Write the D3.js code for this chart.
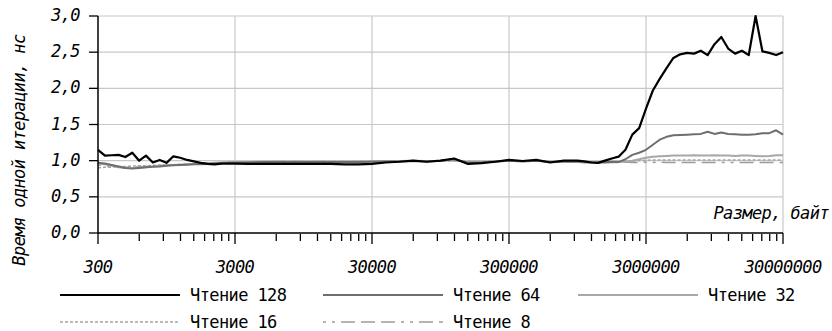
<!DOCTYPE html>
<html>
<head>
<meta charset="utf-8">
<script src="https://cdn.jsdelivr.net/npm/d3@7"></script>
<style>
  body { margin: 0; background: #fff; }
  svg text { font-family: "DejaVu Sans Mono", monospace; font-size: 17px; letter-spacing: -0.6px; fill: #000; }
</style>
</head>
<body>
<svg id="chart" width="832" height="331"></svg>
<script>
// sizes, bytes
var sizes = [
  300, 337, 378, 424, 475, 534, 599, 672, 754, 846, 949, 1065, 1194, 1340, 1504, 1687, 1893, 2124, 2383, 2674,
  3000, 3777, 4755, 5986, 7536, 9487, 11940, 15040, 18930, 23830, 30000, 37770, 47550, 59860, 75360, 94870,
  119400, 150400, 189300, 238300, 300000, 377700, 475500, 598600, 753600,
  845600, 948700, 1064000, 1194000, 1340000, 1504000, 1687000, 1893000, 2124000, 2383000, 2674000,
  3000000, 3366000, 3777000, 4238000, 4755000, 5335000, 5986000, 6716000, 7536000, 8455000, 9487000,
  10640000, 11940000, 13400000, 15040000, 16870000, 18930000, 21240000, 23830000, 26740000, 30000000
];

var read128 = [
  1.15, 1.07, 1.075, 1.08, 1.05, 1.11, 1.00, 1.07, 0.975, 1.01, 0.97, 1.06, 1.04, 1.01, 0.99, 0.97, 0.955, 0.95, 0.96, 0.96,
  0.96, 0.955, 0.955, 0.955, 0.955, 0.955, 0.955, 0.955, 0.95, 0.95, 0.955, 0.975, 0.985, 1.0, 0.985, 1.0,
  1.03, 0.955, 0.965, 0.985, 1.01, 0.995, 1.01, 0.975, 1.0,
  1.0, 1.0, 0.99, 0.975, 0.97, 1.0, 1.03, 1.055, 1.15, 1.36, 1.45,
  1.72, 1.97, 2.13, 2.28, 2.42, 2.47, 2.49, 2.48, 2.52, 2.46, 2.61,
  2.71, 2.55, 2.48, 2.52, 2.46, 3.0, 2.51, 2.49, 2.46, 2.5
];

var read64 = [
  0.97, 0.96, 0.94, 0.92, 0.90, 0.89, 0.90, 0.91, 0.915, 0.92, 0.93, 0.935, 0.94, 0.945, 0.95, 0.95, 0.955, 0.96, 0.965, 0.97,
  0.97, 0.975, 0.98, 0.98, 0.98, 0.98, 0.98, 0.98, 0.98, 0.98, 0.985, 0.99, 0.99, 0.995, 0.99, 1.0,
  1.02, 0.97, 0.975, 0.99, 1.0, 0.99, 1.0, 0.98, 0.99,
  0.99, 0.99, 0.985, 0.98, 0.975, 0.98, 0.985, 0.98, 1.02, 1.08, 1.11,
  1.15, 1.22, 1.29, 1.33, 1.35, 1.355, 1.36, 1.365, 1.37, 1.40, 1.37,
  1.39, 1.37, 1.365, 1.36, 1.36, 1.365, 1.38, 1.38, 1.42, 1.36
];

var read32 = [
  0.96, 0.95, 0.93, 0.91, 0.90, 0.90, 0.905, 0.91, 0.92, 0.93, 0.935, 0.94, 0.945, 0.95, 0.955, 0.96, 0.965, 0.97, 0.975, 0.975,
  0.98, 0.98, 0.985, 0.985, 0.985, 0.985, 0.985, 0.985, 0.985, 0.985, 0.99, 0.99, 0.995, 1.0, 0.995, 1.0,
  1.01, 0.98, 0.98, 0.99, 1.0, 0.995, 1.0, 0.985, 0.99,
  0.98, 0.98, 0.975, 0.97, 0.97, 0.975, 0.98, 0.985, 0.99, 1.0, 1.02,
  1.04, 1.055, 1.06, 1.065, 1.07, 1.07, 1.07, 1.075, 1.07, 1.07, 1.075,
  1.07, 1.07, 1.065, 1.07, 1.07, 1.065, 1.06, 1.065, 1.075, 1.075
];

var read16 = [
  0.90, 0.91, 0.91, 0.92, 0.92, 0.925, 0.93, 0.93, 0.935, 0.94, 0.94, 0.945, 0.95, 0.955, 0.96, 0.965, 0.97, 0.97, 0.975, 0.98,
  0.98, 0.985, 0.99, 0.99, 0.99, 0.99, 0.99, 0.99, 0.99, 0.99, 0.99, 0.995, 1.0, 1.0, 1.0, 1.0,
  1.0, 0.99, 0.99, 0.995, 1.0, 1.0, 1.0, 0.99, 0.99,
  0.985, 0.985, 0.98, 0.98, 0.975, 0.975, 0.98, 0.98, 0.985, 0.99, 1.0,
  1.005, 1.01, 1.01, 1.01, 1.01, 1.01, 1.01, 1.01, 1.01, 1.01, 1.01,
  1.01, 1.01, 1.01, 1.01, 1.01, 1.01, 1.01, 1.01, 1.01, 1.01
];

var read8 = [
  0.94, 0.93, 0.92, 0.915, 0.91, 0.91, 0.915, 0.92, 0.925, 0.93, 0.935, 0.94, 0.945, 0.95, 0.955, 0.96, 0.96, 0.965, 0.97, 0.975,
  0.98, 0.98, 0.985, 0.99, 0.99, 0.99, 0.99, 0.99, 0.99, 0.99, 0.99, 0.99, 0.995, 0.995, 0.995, 1.0,
  1.0, 0.99, 0.99, 0.99, 0.995, 0.99, 0.995, 0.985, 0.985,
  0.98, 0.98, 0.975, 0.975, 0.97, 0.97, 0.975, 0.975, 0.98, 0.975, 0.975,
  0.98, 0.975, 0.98, 0.975, 0.975, 0.975, 0.975, 0.975, 0.975, 0.975, 0.975,
  0.975, 0.975, 0.975, 0.975, 0.975, 0.975, 0.975, 0.975, 0.975, 0.975
];

var seriesNames = ['Чтение 128', 'Чтение 64', 'Чтение 32', 'Чтение 16', 'Чтение 8'];
var majorTicks = [300, 3000, 30000, 300000, 3000000, 30000000];
var yTicks = [0, 0.5, 1, 1.5, 2, 2.5, 3];

var svg = d3.select('#chart');
var plotLeft = 98, plotRight = 783, plotTop = 16, plotBottom = 233;

var x = d3.scaleLog().domain([300, 30000000]).range([plotLeft, plotRight]);
var y = d3.scaleLinear().domain([0, 3]).range([plotBottom, plotTop]);
var fmt = d3.formatLocale({decimal: ',', thousands: ' ', grouping: [3], currency: ['', '']}).format('.1f');

// minor tick values: 2..9 times each major, inside the domain
var minorTicks = [];
majorTicks.slice(0, -1).forEach(function (m) {
  for (var k = 2; k <= 9; k++) minorTicks.push(m * k);
});

// grid
svg.append('g').selectAll('line').data(yTicks.slice(1)).enter().append('line')
  .attr('x1', plotLeft).attr('x2', plotRight)
  .attr('y1', d => y(d)).attr('y2', d => y(d))
  .style('stroke', '#c8c8c8').style('stroke-width', 1.2);
svg.append('g').selectAll('line').data(majorTicks.slice(1)).enter().append('line')
  .attr('x1', d => x(d)).attr('x2', d => x(d))
  .attr('y1', plotTop).attr('y2', plotBottom)
  .style('stroke', '#c8c8c8').style('stroke-width', 1.2);

// series
var styles = [
  {data: read128, color: '#000000', width: 2.2, dash: null},
  {data: read64, color: '#6e6e6e', width: 2, dash: null},
  {data: read32, color: '#a8a8a8', width: 2, dash: null},
  {data: read16, color: '#a4a4a4', width: 1.5, dash: '3,2'},
  {data: read8, color: '#9c9c9c', width: 1.5, dash: '3,6,3,6,14,6,14,6,14,6'}
];

var line = d3.line().x((d, i) => x(sizes[i])).y(d => y(d));

styles.slice().reverse().forEach(function (s) {
  svg.append('path')
    .datum(s.data)
    .attr('d', line)
    .style('fill', 'none')
    .style('stroke', s.color)
    .style('stroke-width', s.width)
    .style('stroke-linejoin', 'round')
    .style('stroke-dasharray', s.dash);
});

// axes
var yAxis = svg.append('g');
yAxis.append('line').attr('x1', plotLeft).attr('x2', plotLeft).attr('y1', plotTop).attr('y2', plotBottom)
  .style('stroke', '#000').style('stroke-width', 1.5);
yAxis.selectAll('.tick').data(yTicks).enter().append('line')
  .attr('x1', plotLeft - 9).attr('x2', plotLeft)
  .attr('y1', d => y(d)).attr('y2', d => y(d))
  .style('stroke', '#000').style('stroke-width', 1.3);
yAxis.selectAll('text').data(yTicks).enter().append('text')
  .attr('x', plotLeft - 18).attr('y', d => y(d)).attr('dy', '0.3em')
  .attr('text-anchor', 'end').style('font-style', 'italic')
  .text(d => fmt(d));

var xAxis = svg.append('g');
xAxis.append('line').attr('x1', plotLeft).attr('x2', plotRight).attr('y1', plotBottom).attr('y2', plotBottom)
  .style('stroke', '#000').style('stroke-width', 1.5);
xAxis.selectAll('.major').data(majorTicks).enter().append('line')
  .attr('x1', d => x(d)).attr('x2', d => x(d))
  .attr('y1', plotBottom).attr('y2', plotBottom + 11)
  .style('stroke', '#000').style('stroke-width', 1.3);
xAxis.selectAll('.minor').data(minorTicks).enter().append('line')
  .attr('x1', d => x(d)).attr('x2', d => x(d))
  .attr('y1', plotBottom + 1).attr('y2', plotBottom + 8)
  .style('stroke', '#000').style('stroke-width', 1.3);
xAxis.selectAll('text').data(majorTicks).enter().append('text')
  .attr('x', d => x(d)).attr('y', 273)
  .attr('text-anchor', 'middle').style('font-style', 'italic')
  .text(d => String(d));

// axis titles
svg.append('text')
  .attr('transform', 'translate(25,150) rotate(-90)')
  .attr('text-anchor', 'middle').style('font-style', 'italic')
  .text('Время одной итерации, нс');
svg.append('text')
  .attr('x', 829).attr('y', 219)
  .attr('text-anchor', 'end').style('font-style', 'italic')
  .text('Размер, байт');

// legend
var legendPos = [
  {lx: 60, ly: 295, ty: 301},
  {lx: 323, ly: 295, ty: 301},
  {lx: 578, ly: 295, ty: 301},
  {lx: 60, ly: 322, ty: 328},
  {lx: 323, ly: 322, ty: 328}
];
var legend = svg.append('g');
styles.forEach(function (s, i) {
  var p = legendPos[i];
  legend.append('line')
    .attr('x1', p.lx).attr('x2', p.lx + 120)
    .attr('y1', p.ly).attr('y2', p.ly)
    .style('stroke', s.color).style('stroke-width', s.width)
    .style('stroke-dasharray', s.dash);
  legend.append('text')
    .attr('x', p.lx + 130).attr('y', p.ty)
    .text(seriesNames[i]);
});
</script>
</body>
</html>
